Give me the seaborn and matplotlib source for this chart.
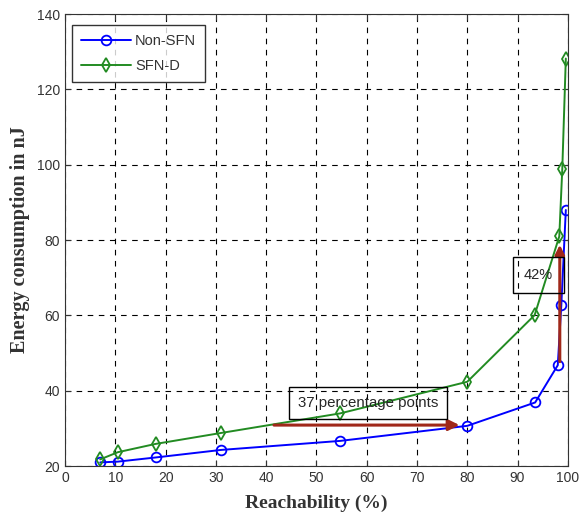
import numpy as np
import pandas as pd
import matplotlib
matplotlib.use('Agg')
import matplotlib.pyplot as plt
import seaborn as sns

sns.set_style('white')
plt.rcParams['font.family'] = ['Liberation Sans', 'DejaVu Sans']

# 数据
reach = [7, 10.5, 18, 31, 54.7, 80, 93.5, 98, 98.7, 99.6]
non_sfn = [21, 21.2, 22.3, 24.3, 26.7, 30.7, 36.9, 46.8, 62.7, 88]
reach_d = [7, 10.5, 18, 31, 54.7, 80, 93.4, 98.3, 98.9, 99.6]
sfn_d = [21.8, 23.7, 25.9, 28.8, 34, 42.4, 60.1, 81, 99, 128.2]

df = pd.DataFrame({
    'x': reach + reach_d,
    'y': non_sfn + sfn_d,
    'name': ['Non-SFN'] * len(reach) + ['SFN-D'] * len(reach_d),
})

fig = plt.figure(figsize=(5.86, 5.22), dpi=100)
ax = fig.add_axes([0.111, 0.107, 0.858, 0.866])

sns.lineplot(data=df[df['name'] == 'Non-SFN'], x='x', y='y', color='#0000ff',
             marker='o', markersize=7, mfc='none', mec='#0000ff', mew=1.3, lw=1.4,
             estimator=None, sort=False, label='Non-SFN', ax=ax)
sns.lineplot(data=df[df['name'] == 'SFN-D'], x='x', y='y', color='#228b22',
             marker='d', markersize=7, mfc='none', mec='#228b22', mew=1.3, lw=1.4,
             estimator=None, sort=False, label='SFN-D', ax=ax)

ax.set_xlim(0, 100)
ax.set_ylim(20, 140)
ax.set_xticks(np.arange(0, 101, 10))
ax.set_yticks(np.arange(20, 141, 20))
ax.tick_params(direction='in', length=4, labelsize=10, colors='#333333',
               top=True, right=True, bottom=True, left=True)
ax.grid(True, color='black', linestyle=(0, (5, 5)), linewidth=0.8)
for s in ax.spines.values():
    s.set_color('#333333')
    s.set_linewidth(0.8)

ax.set_xlabel('Reachability (%)', fontsize=14, fontweight='bold',
              family='Liberation Serif', color='#333333', labelpad=7)
ax.set_ylabel('Energy consumption in nJ', fontsize=14.5, fontweight='bold',
              family='Liberation Serif', color='#333333', labelpad=5)

# 注释箭头
ax.annotate('', xy=(79, 30.9), xytext=(41, 30.9),
            arrowprops=dict(arrowstyle='-|>', color='#a0281a', lw=2.2,
                            mutation_scale=16))
ax.annotate('', xy=(98.4, 79.5), xytext=(98.4, 47),
            arrowprops=dict(arrowstyle='-|>', color='#a0281a', lw=2.2,
                            mutation_scale=14))
ax.text(60.2, 36.7, '37 percentage points', ha='center', va='center', fontsize=10.8,
        bbox=dict(boxstyle='square,pad=0.6', fc='none', ec='black', lw=1))
ax.text(94.1, 70.8, '42%', ha='center', va='center', fontsize=10.5,
        bbox=dict(boxstyle='square,pad=0.75', fc='none', ec='black', lw=1))

leg = ax.legend(loc='upper left', fontsize=10.5, frameon=True, fancybox=False,
                edgecolor='black', borderpad=0.6, handlelength=3.4,
                labelspacing=0.8, handletextpad=0.3,
                bbox_to_anchor=(0.0, 0.992))
leg.get_frame().set_linewidth(1)
for t in leg.get_texts():
    t.set_color('#333333')

plt.savefig('out.png', dpi=100)
